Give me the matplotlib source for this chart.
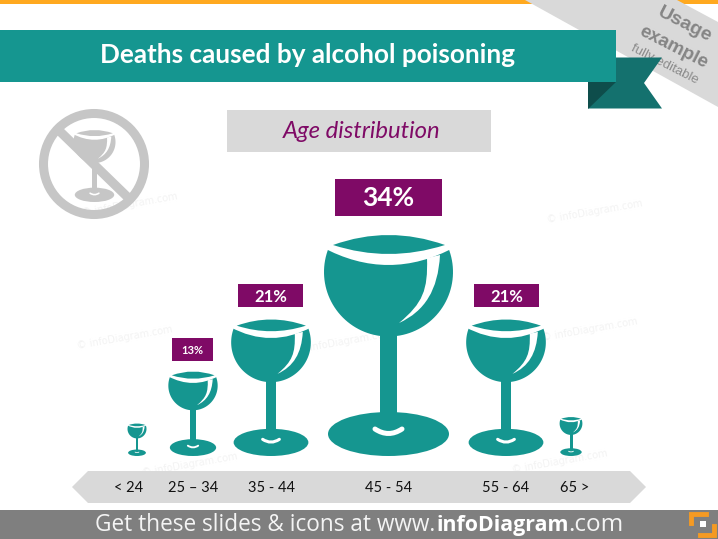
import matplotlib
matplotlib.use("Agg")
import matplotlib.pyplot as plt
import numpy as np
from matplotlib.patches import Circle, Ellipse, PathPatch, Polygon, Rectangle
from matplotlib.path import Path

# age groups and their share of deaths
age_groups = ["< 24", "25 – 34", "35 - 44", "45 - 54", "55 - 64", "65 >"]
shares = [5, 13, 21, 34, 21, 6]
share_labels = ["", "13%", "21%", "34%", "21%", ""]

TEAL = "#159690"
PURPLE = "#7F0A66"
GREY = "#D9D9D9"
ICON_GREY = "#C6C6C6"

glass_x = [137, 193, 271, 388.5, 506, 571]
label_x = [128.5, 193, 271, 388.5, 506, 575]
box_x = [0, 192.5, 270.5, 388.5, 506.5, 0]
box_w = [0, 41, 65, 107, 65, 0]
box_h = [0, 23, 23, 37, 23, 0]
box_top = [0, 338, 284, 179, 284, 0]
box_font = [0, 8, 12, 19, 12, 0]
BASE_Y = 456
PX_PER_PERCENT = 6.5


def draw_glass(ax, cx, base_y, height, color=TEAL, zorder=3):
    # shape is measured on the big glass (221 px high, centre 388.5, base 456)
    s = height / 221.0

    def p(x, y):
        return (cx + (x - 388.5) * s, base_y + (y - 456) * s)

    # bowl, a circle cut off at the rim
    t = np.linspace(np.radians(-25), np.radians(205), 80)
    bowl = [p(388.5 + 64.5 * np.cos(a), 272 + 64.5 * np.sin(a)) for a in t]
    ax.add_patch(Polygon(bowl, fc=color, ec="none", zorder=zorder))

    # stem
    x0, y0 = p(380, 330)
    x1, y1 = p(397, 420)
    ax.add_patch(Rectangle((x0, y0), x1 - x0, y1 - y0, fc=color, ec="none", zorder=zorder))

    # foot
    fx, fy = p(388.5, 434)
    ax.add_patch(Ellipse((fx, fy), 121 * s, 44 * s, fc=color, ec="none", zorder=zorder))

    # white band under the rim, clears the bowl above its lower edge
    band = [p(322, 247), p(388.5, 283), p(455, 247), p(455, 228), p(322, 228), p(322, 247)]
    band_codes = [Path.MOVETO, Path.CURVE3, Path.CURVE3, Path.LINETO, Path.LINETO, Path.CLOSEPOLY]
    ax.add_patch(PathPatch(Path(band, band_codes), fc="white", ec="none", zorder=zorder + 1))

    # rim, a lens with pointed ends
    rim = [p(333, 245), p(388.5, 225), p(445, 245), p(388.5, 263), p(333, 245), p(333, 245)]
    rim_codes = [Path.MOVETO, Path.CURVE3, Path.CURVE3, Path.CURVE3, Path.CURVE3, Path.CLOSEPOLY]
    ax.add_patch(PathPatch(Path(rim, rim_codes), fc=color, ec="none", zorder=zorder + 2))

    # highlight on the right side of the bowl
    shine = [p(427, 258), p(428, 290), p(423, 303), p(399, 323),
             p(425, 311), p(438, 290), p(440, 255), p(427, 258)]
    shine_codes = [Path.MOVETO, Path.CURVE4, Path.CURVE4, Path.CURVE4,
                   Path.CURVE4, Path.CURVE4, Path.CURVE4, Path.CLOSEPOLY]
    ax.add_patch(PathPatch(Path(shine, shine_codes), fc="white", ec="none", zorder=zorder + 1))

    # white arc on the foot, a stroke with round ends
    arc = [p(375, 429), p(388.5, 438), p(402, 429)]
    arc_codes = [Path.MOVETO, Path.CURVE3, Path.CURVE3]
    ax.add_patch(PathPatch(Path(arc, arc_codes), fc="none", ec="white", lw=3.6 * s,
                           capstyle="round", zorder=zorder + 1))


fig = plt.figure(figsize=(7.18, 5.39), dpi=100)
ax = fig.add_axes([0, 0, 1, 1])
ax.set_xlim(0, 718)
ax.set_ylim(539, 0)
ax.axis("off")

# top strip and corner banner
ax.add_patch(Rectangle((0, 0), 718, 3.5, fc="#FFA91F", ec="none", zorder=1))
ax.add_patch(Polygon([(525, 0), (677, 0), (718, 22), (718, 107)], fc=GREY, ec="none", zorder=1.5))
ax.text(685, 25, "Usage", fontsize=14, fontweight="bold", color="#858585", rotation=-27,
        ha="center", va="center", family="Liberation Sans", zorder=2)
ax.text(673, 47, "example", fontsize=13.5, fontweight="bold", color="#858585", rotation=-27,
        ha="center", va="center", family="Liberation Sans", zorder=2)
ax.text(665, 64, "fully editable", fontsize=9.5, color="#8C8C8C", rotation=-27,
        ha="center", va="center", family="Liberation Sans", zorder=2)

# title ribbon
ax.add_patch(Polygon([(615, 57.5), (662, 57.5), (644, 83), (662, 108.5), (588, 108.5)],
                     fc="#14716E", ec="none", zorder=3))
ax.add_patch(Polygon([(588, 108.5), (588, 82), (616, 82)], fc="#0E4D4B", ec="none", zorder=3))
ax.add_patch(Rectangle((0, 30), 616, 52, fc=TEAL, ec="none", zorder=4))
ax.text(307, 55, "Deaths caused by alcohol poisoning", color="white", fontsize=18.8,
        fontweight="bold", family="Lato", ha="center", va="center", zorder=5)

# subtitle
ax.add_patch(Rectangle((227, 110), 264, 42, fc=GREY, ec="none", zorder=2))
ax.text(362, 132, "Age distribution", color=PURPLE, fontsize=17.2, style="italic",
        family="Lato", ha="center", va="center", zorder=3)

# no alcohol icon
draw_glass(ax, 94.5, 202, 72, color=ICON_GREY, zorder=2)
ax.add_patch(Polygon([(57, 135), (63, 128), (132, 195), (125, 201)], fc=ICON_GREY, ec="none",
                     zorder=6))
ax.add_patch(Circle((94, 164), 50.5, fc="none", ec=ICON_GREY, lw=6.5, zorder=6))

# faint watermarks
for wx, wy in [(130, 205), (595, 212), (125, 338), (345, 342), (590, 330), (190, 465), (560, 462)]:
    ax.text(wx, wy, "© infoDiagram.com", fontsize=7, color="#F3F3F3", rotation=10,
            ha="center", va="center", zorder=1)

# age axis arrow
ax.add_patch(Polygon([(72, 487), (88, 471), (630, 471), (646, 487), (630, 503), (88, 503)],
                     fc=GREY, ec="none", zorder=2))

# glasses, height follows the share
for i in range(len(age_groups)):
    draw_glass(ax, glass_x[i], BASE_Y, shares[i] * PX_PER_PERCENT)
    ax.text(label_x[i], 488, age_groups[i], fontsize=10.5, color="#111111", family="Lato",
            ha="center", va="center", zorder=3)
    if share_labels[i]:
        ax.add_patch(Rectangle((box_x[i] - box_w[i] / 2, box_top[i]), box_w[i], box_h[i],
                               fc=PURPLE, ec="none", zorder=3))
        ax.text(box_x[i], box_top[i] + box_h[i] / 2 + 1, share_labels[i], color="white",
                fontsize=box_font[i], fontweight="bold", family="Lato",
                ha="center", va="center", zorder=4)

# footer
ax.add_patch(Rectangle((0, 510), 718, 29, fc="#7F7F7F", ec="none", zorder=2))
ax.text(95, 525, "Get these slides & icons at www.", color="#F4F4F4", fontsize=16.3,
        family="Open Sans", ha="left", va="center", zorder=3)
ax.text(437, 525, "infoDiagram", color="white", fontsize=15.4, fontweight="bold",
        family="Open Sans", ha="left", va="center", zorder=3)
ax.text(568, 525, ".com", color="#F4F4F4", fontsize=17.5,
        family="Open Sans", ha="left", va="center", zorder=3)

# logo
ax.plot([706, 691, 691], [514, 514, 523], color="#F59A23", lw=3.5, solid_joinstyle="miter", zorder=3)
ax.plot([700, 714, 714], [535, 535, 526], color="#F59A23", lw=3.5, solid_joinstyle="miter", zorder=3)
ax.add_patch(Rectangle((700, 521), 6, 6, fc="white", ec="none", zorder=3))

fig.savefig("out.png", dpi=100)
